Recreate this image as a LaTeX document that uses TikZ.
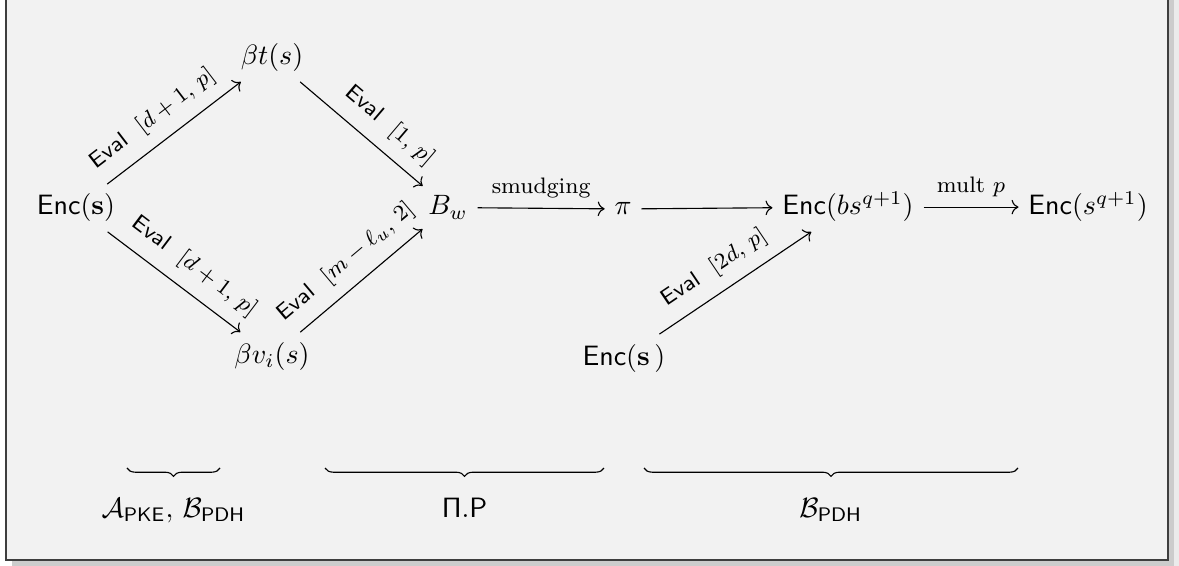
\documentclass[tikz,border=0pt]{standalone}
\usepackage{amsmath, amssymb}
\usepackage{xcolor}
\definecolor{frmgray}{RGB}{62, 62, 62}
\definecolor{bggray}{RGB}{242, 242, 242}
\usepackage{tikz}
\usetikzlibrary{arrows.meta, positioning, decorations.pathreplacing}
\newcommand{\Eval}{\mathsf{Eval}}
\newcommand{\Enc}{\mathsf{Enc}}

\begin{document}
\begin{tikzpicture}[
    obj/.style={anchor=base},
    arr/.style={->},
    slbl/.style={font=\footnotesize, sloped, above, inner xsep=1pt, inner ysep=4.5pt},
    hlbl/.style={font=\footnotesize, above},
    brc/.style={decorate, decoration={brace, mirror, amplitude=3pt}},
    grp/.style={anchor=base}
  ]
  \useasboundingbox (0,0) rectangle (14.8,7.093);
  % framed box with its shadow
  \fill[black!8]  (0.21,-0.2) rectangle (14.80,7.093);
  \fill[black!20] (0.15,-0.2) rectangle (14.74,7.093);
  \fill[bggray] (0.075,0.063) rectangle (14.66,7.093);
  \draw[frmgray, line width=0.85pt] (0.075,7.093) |- (14.66,0.063) -- (14.66,7.093);

  \node[obj] (enc)  at (0.954,4.394)  {$\Enc(\mathbf{s})$};
  \node[obj] (bt)   at (3.415,6.277)  {$\beta t(s)$};
  \node[obj] (bv)   at (3.415,2.536)  {$\beta v_i(s)$};
  \node[obj] (bw)   at (5.624,4.394)  {$B_w$};
  \node[obj] (pi)   at (7.821,4.394)  {$\pi$};
  \node[obj] (encb) at (10.645,4.394) {$\Enc(bs^{q+1})$};
  \node[obj] (encq) at (13.658,4.394) {$\Enc(s^{q+1})$};
  \node[obj] (enc2) at (7.833,2.511)  {$\Enc(\mathbf{s}\,)$};

  \draw[arr] (enc)  -- node[slbl, pos=0.45] {$\Eval\ \ [d+1,\, p]$} (bt);
  \draw[arr] (enc)  -- node[slbl, pos=0.54] {$\Eval\ \ [d+1,\, p]$} (bv);
  \draw[arr] (bt)   -- node[slbl, pos=0.6]  {$\Eval\ \ [1,\, p]$} (bw);
  \draw[arr] (bv)   -- node[slbl, pos=0.5]  {$\Eval\ \ [m-\ell_u,\, 2]$} (bw);
  \draw[arr] (bw)   -- node[hlbl] {smudging} (pi);
  \draw[arr] (pi)   -- (encb);
  \draw[arr] (enc2) -- node[slbl, pos=0.45] {$\Eval\ \ [2d,\, p]$} (encb);
  \draw[arr] (encb) -- node[hlbl] {mult $p$} (encq);

  % groups
  \coordinate (b1l) at (1.594,1.218);
  \coordinate (b1r) at (2.762,1.218);
  \coordinate (b2l) at (4.080,1.218);
  \coordinate (b2r) at (7.582,1.218);
  \coordinate (b3l) at (8.084,1.218);
  \coordinate (b3r) at (12.779,1.218);
  \draw[brc] (b1l) -- (b1r);
  \draw[brc] (b2l) -- (b2r);
  \draw[brc] (b3l) -- (b3r);
  \node[grp] (g1) at (2.178,0.60) {$\mathcal{A}_{\mathsf{PKE}},\, \mathcal{B}_{\mathsf{PDH}}$};
  \node[grp] (g2) at (5.831,0.60) {$\mathsf{\Pi.P}$};
  \node[grp] (g3) at (10.43,0.60) {$\mathcal{B}_{\mathsf{PDH}}$};
\end{tikzpicture}
\end{document}
